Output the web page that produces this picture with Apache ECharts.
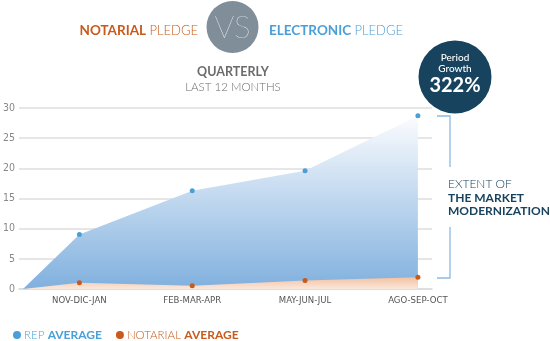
<!DOCTYPE html>
<html><head><meta charset="utf-8">
<script src="https://cdn.jsdelivr.net/npm/echarts@6/dist/echarts.min.js"></script>
<style>html,body{margin:0;padding:0;background:#fff}#c{width:550px;height:341px}</style>
</head><body><div id="c"></div>
<script>
const categories = ['NOV-DIC-JAN', 'FEB-MAR-APR', 'MAY-JUN-JUL', 'AGO-SEP-OCT'];
const repAverage = [9.05, 16.3, 19.6, 28.7];
const notarialAverage = [1.05, 0.55, 1.4, 1.95];
const startValue = 0;
const yTicks = [0, 5, 10, 15, 20, 25, 30];

// category i sits at 2*i+1 on the x scale, series start point at 0
const catPos = categories.map((c, i) => 2 * i + 1);
const toSeries = vals => [{value: [0, startValue], symbol: 'none'}].concat(vals.map((v, i) => [catPos[i], v]));

const F = 'Lato, "Open Sans", sans-serif';
const N = '"DejaVu Sans Condensed", "Liberation Sans Narrow", sans-serif';
const blue = '#4a9fd8', orange = '#c85a1c', navy = '#17435f';

const chart = echarts.init(document.getElementById('c'), null, {renderer: 'canvas'});
chart.setOption({
  animation: false,
  grid: {left: 19, right: 118, top: 108, bottom: 52},
  xAxis: {
    type: 'value', min: -0.07, max: 7.25,
    axisLine: {show: true, lineStyle: {color: '#dcdcdc', width: 1.5}},
    axisTick: {show: false},
    splitLine: {show: false},
    axisLabel: {
      customValues: catPos,
      formatter: v => categories[(Math.round(v) - 1) / 2] || '',
      color: '#555', fontFamily: N, fontSize: 9.5, margin: 7
    }
  },
  yAxis: {
    type: 'value', min: yTicks[0], max: yTicks[yTicks.length - 1], interval: 5,
    axisLine: {show: false}, axisTick: {show: false},
    splitLine: {lineStyle: {color: '#dedede', width: 1.5}},
    axisLabel: {color: '#888', fontFamily: N, fontSize: 10.5, margin: 4}
  },
  legend: {
    left: 8, top: 324, itemGap: 14, itemWidth: 8, itemHeight: 8,
    icon: 'circle',
    data: [
      {name: 'REP AVERAGE', itemStyle: {color: blue}},
      {name: 'NOTARIAL AVERAGE', itemStyle: {color: orange}}
    ],
    formatter: n => n === 'REP AVERAGE' ? '{bt|REP} {bb|AVERAGE}' : '{ot|NOTARIAL} {ob|AVERAGE}',
    textStyle: {
      padding: [0, 0, 0, -2],
      rich: {
        bt: {color: blue, fontFamily: F, fontSize: 11.5, fontWeight: 300},
        bb: {color: blue, fontFamily: F, fontSize: 12, fontWeight: 'bold'},
        ot: {color: orange, fontFamily: F, fontSize: 11.5, fontWeight: 300},
        ob: {color: orange, fontFamily: F, fontSize: 12, fontWeight: 'bold'}
      }
    }
  },
  series: [
    {
      name: 'REP AVERAGE', type: 'line', data: toSeries(repAverage),
      symbol: 'circle', symbolSize: 5,
      itemStyle: {color: blue},
      lineStyle: {width: 0},
      areaStyle: {opacity: 1, color: new echarts.graphic.LinearGradient(0, 0, 0, 1, [
        {offset: 0, color: '#fbfcfe'}, {offset: 1, color: '#80b0de'}])},
      z: 2
    },
    {
      name: 'NOTARIAL AVERAGE', type: 'line', data: toSeries(notarialAverage),
      symbol: 'circle', symbolSize: 5,
      itemStyle: {color: orange},
      lineStyle: {width: 0},
      areaStyle: {opacity: 1, color: new echarts.graphic.LinearGradient(0, 0, 0, 1, [
        {offset: 0, color: '#f2c1a0'}, {offset: 1, color: '#fbe8dc'}])},
      z: 3
    }
  ],
  graphic: [
    {type: 'circle', shape: {cx: 232.5, cy: 27, r: 26}, style: {fill: '#7f8e99'}},
    {type: 'text', style: {x: 232.5, y: 28, text: 'VS', fill: '#fff', font: '200 31px ' + F, align: 'center', verticalAlign: 'middle'}},
    {type: 'text', style: {x: 198, y: 31, align: 'right', verticalAlign: 'middle',
      text: '{b|NOTARIAL} {t|PLEDGE}',
      rich: {b: {fill: orange, font: 'bold 13.5px ' + F}, t: {fill: orange, font: '300 13px ' + F}}}},
    {type: 'text', style: {x: 269, y: 31, align: 'left', verticalAlign: 'middle',
      text: '{b|ELECTRONIC} {t|PLEDGE}',
      rich: {b: {fill: blue, font: 'bold 13.5px ' + F}, t: {fill: blue, font: '300 13px ' + F}}}},
    {type: 'text', style: {x: 233, y: 72, text: 'QUARTERLY', fill: '#6b6b6b', font: 'bold 12.5px ' + F, align: 'center', verticalAlign: 'middle'}},
    {type: 'text', style: {x: 233, y: 87, text: 'LAST 12 MONTHS', fill: '#6b6b6b', font: '300 11.5px ' + F, align: 'center', verticalAlign: 'middle'}},
    {type: 'circle', shape: {cx: 455, cy: 77, r: 36.5}, style: {fill: navy}},
    {type: 'text', style: {x: 455, y: 58, text: 'Period', fill: '#fff', font: '500 10px ' + F, align: 'center', verticalAlign: 'middle'}},
    {type: 'text', style: {x: 455, y: 69, text: 'Growth', fill: '#fff', font: '500 10px ' + F, align: 'center', verticalAlign: 'middle'}},
    {type: 'text', style: {x: 455, y: 86, text: '322%', fill: '#fff', font: 'bold 20px ' + F, align: 'center', verticalAlign: 'middle'}},
    {type: 'polyline', shape: {points: [[437, 116], [450, 116], [450, 167]]}, style: {stroke: '#8cbbe4', lineWidth: 1.3, fill: null}},
    {type: 'polyline', shape: {points: [[450, 227], [450, 278], [437, 278]]}, style: {stroke: '#8cbbe4', lineWidth: 1.3, fill: null}},
    {type: 'text', style: {x: 448, y: 184, text: 'EXTENT OF', fill: navy, font: '300 12px ' + F, verticalAlign: 'middle'}},
    {type: 'text', style: {x: 448, y: 198, text: 'THE MARKET', fill: navy, font: 'bold 12px ' + F, verticalAlign: 'middle'}},
    {type: 'text', style: {x: 448, y: 211, text: 'MODERNIZATION', fill: navy, font: 'bold 12px ' + F, verticalAlign: 'middle'}}
  ]
});
</script></body></html>
